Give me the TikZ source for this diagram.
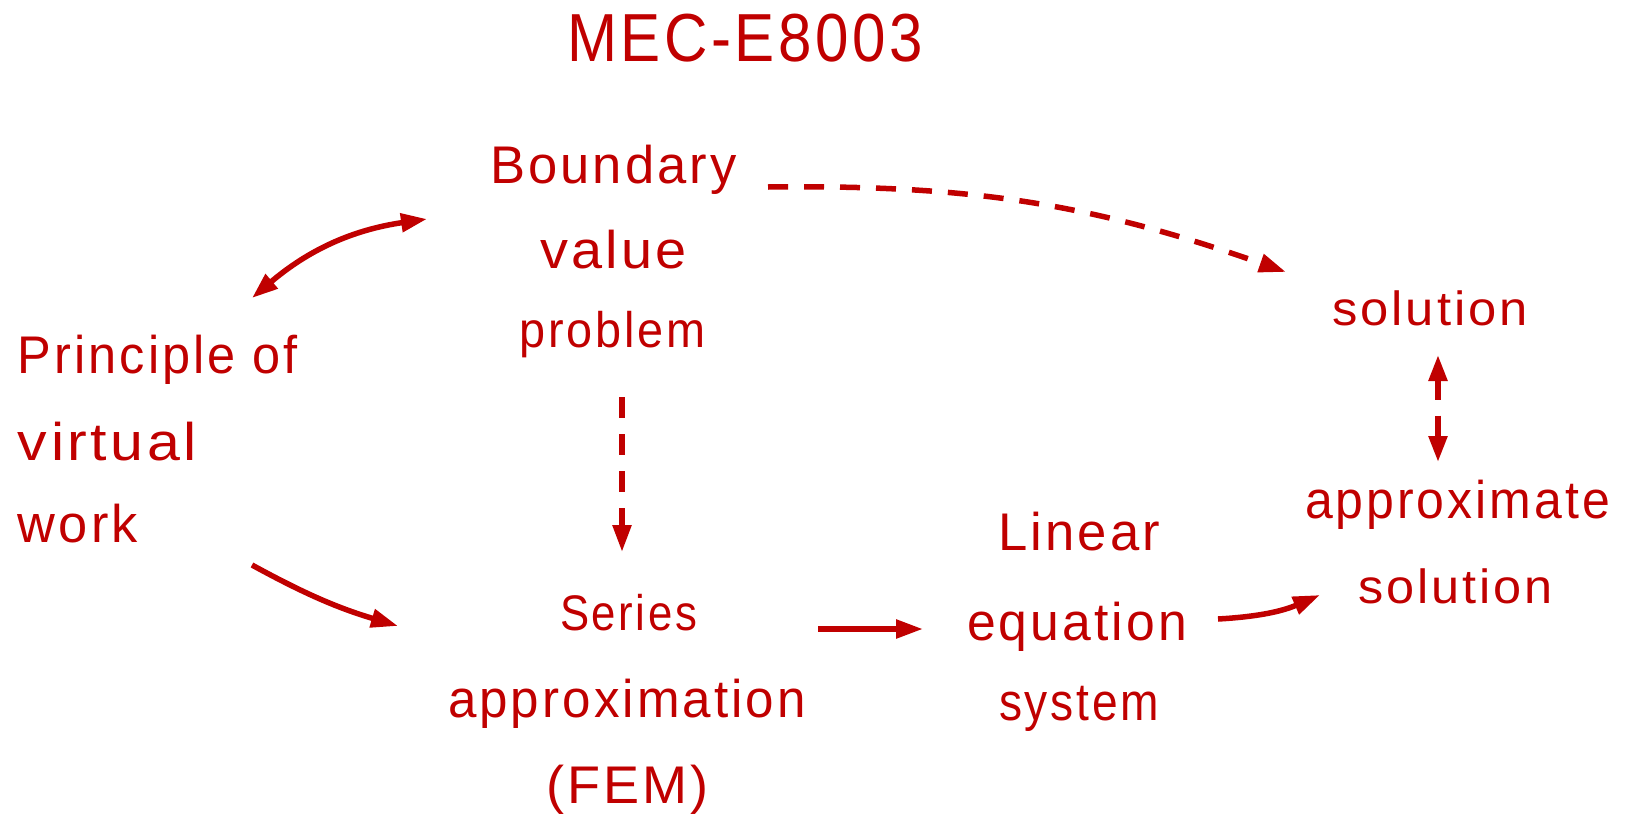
\documentclass[tikz,border=0pt]{standalone}
\usepackage{fontspec}
\usepackage{graphicx}
\setmainfont[LetterSpace=6]{Liberation Sans}
\usetikzlibrary{arrows.meta,calc}
\definecolor{myred}{RGB}{192,0,0}
\newcommand{\fitw}[2]{\resizebox{#1}{\height}{#2}}
\tikzset{
  txt/.style={inner sep=0pt, outer sep=0pt, anchor=base, text=myred, font=\fontsize{53}{60}\selectfont},
  conn/.style={draw=myred, line width=5.5pt, -{Triangle[length=27pt,width=18pt]}},
  conn2/.style={draw=myred, line width=5.5pt, {Triangle[length=26pt,width=18pt]}-{Triangle[length=26pt,width=18pt]}},
  dashA/.style={dash pattern=on 20pt off 16pt}
}
\begin{document}
\begin{tikzpicture}[x=1pt,y=-1pt]
\useasboundingbox (0,0) rectangle (1625,814);
% title
\node[txt, font=\fontsize{68}{70}\selectfont] (title) at (745,61) {\fitw{356pt}{MEC-E8003}};
% boundary value problem
\node[txt] (bv1) at (613.5,183) {\fitw{247pt}{Boundary}};
\node[txt] (bv2) at (613.5,268) {\fitw{147pt}{value}};
\node[txt, font=\fontsize{50}{56}\selectfont] (bv3) at (612.5,347) {\fitw{186pt}{problem}};
% principle of virtual work
\node[txt] (pv1) at (158,373) {\fitw{280pt}{Principle of}};
\node[txt] (pv2) at (107.5,460) {\fitw{179pt}{virtual}};
\node[txt] (pv3) at (78,542) {\fitw{120pt}{work}};
% series approximation
\node[txt, font=\fontsize{50}{56}\selectfont] (sa1) at (628.5,630) {\fitw{137pt}{Series}};
\node[txt] (sa2) at (627,717) {\fitw{358pt}{approximation}};
\node[txt] (sa3) at (627.5,803) {\fitw{163pt}{(FEM)}};
% linear equation system
\node[txt] (le1) at (1079,550) {\fitw{162pt}{Linear}};
\node[txt] (le2) at (1077,640) {\fitw{220pt}{equation}};
\node[txt] (le3) at (1079,720) {\fitw{160pt}{system}};
% solution
\node[txt, font=\fontsize{48}{54}\selectfont] (so) at (1430,325) {\fitw{196pt}{solution}};
\node[txt] (as1) at (1457.5,518) {\fitw{305pt}{approximate}};
\node[txt, font=\fontsize{48}{54}\selectfont] (as2) at (1455.5,603) {\fitw{195pt}{solution}};
% connectors
\draw[conn2] ([shift={(234,-75)}]pv1.base west) to[bend left=16] ([shift={(-63,36)}]bv1.base west);
\draw[conn, dashA] ([shift={(31,4)}]bv1.base east) to[bend left=10] ([shift={(-46,-53)}]so.base west);
\draw[conn, dash pattern=on 21pt off 16pt] ([shift={(9.5,50)}]bv3.base) -- ([shift={(-6.5,-78)}]sa1.base);
\draw[conn] ([shift={(234,23)}]pv3.base west) to[bend right=6] ([shift={(-162,-4)}]sa1.base west);
\draw[conn] ([shift={(121,-1)}]sa1.base east) -- ([shift={(-44,-11)}]le2.base west);
\draw[conn] ([shift={(31,-21)}]le2.base east) to[bend right=10] ([shift={(-38,-8)}]as2.base west);
\draw[conn2, dash pattern=on 20pt off 16pt] ([shift={(8,30)}]so.base) -- ([shift={(-19.5,-56)}]as1.base);
\end{tikzpicture}
\end{document}
